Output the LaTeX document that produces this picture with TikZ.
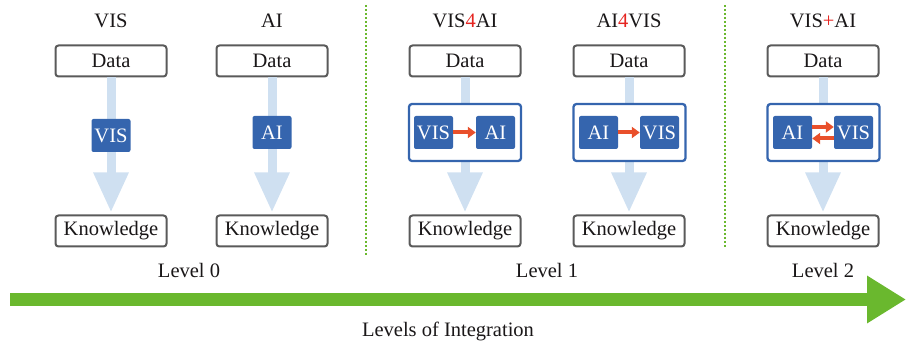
\documentclass[tikz,border=0pt]{standalone}
\usepackage{fontspec}
\setmainfont{Liberation Serif}
\usetikzlibrary{arrows.meta}
\definecolor{boxblue}{HTML}{3565AE}
\definecolor{lightblue}{HTML}{CFE0F1}
\definecolor{boxgray}{HTML}{5A5A5A}
\definecolor{textdark}{HTML}{1A1718}
\definecolor{redarr}{HTML}{E9502B}
\definecolor{redfour}{HTML}{E52521}
\definecolor{levgreen}{HTML}{6AB82E}
\begin{document}
\begin{tikzpicture}[x=1pt,y=-1pt,
  txt/.style={font=\fontsize{20.5}{24}\selectfont, text=textdark, inner sep=0pt},
  gbox/.style={txt, draw=boxgray, line width=2pt, rounded corners=3pt, fill=white, minimum width=111pt, minimum height=31pt},
  bbox/.style={fill=boxblue, rounded corners=2pt, minimum width=39pt, minimum height=33pt, inner sep=0pt, text=white, font=\fontsize{20.5}{24}\selectfont},
  obox/.style={draw=boxblue, line width=2.3pt, fill=white, rounded corners=3pt, minimum width=112pt, minimum height=57pt, inner sep=0pt},
  bigarrow/.style={draw=lightblue, line width=9pt, -{Triangle[width=33pt,length=40pt]}, shorten >=2pt},
  redarrow/.style={draw=redarr, line width=4pt, -{Triangle[width=11pt,length=8pt]}},
  sep/.style={draw=levgreen, line width=2pt, dotted}
]
\useasboundingbox (0,0) rectangle (906,344);

% titles
\node[txt] (t1) at (111,21) {VIS};
\node[txt] (t2) at (272,21) {AI};
\node[txt] (t3) at (465,21) {VIS\textcolor{redfour}{4}AI};
\node[txt] (t4) at (629,21) {AI\textcolor{redfour}{4}VIS};
\node[txt] (t5) at (823,21) {VIS\textcolor{redfour}{+}AI};

% data and knowledge
\node[gbox] (d1) at (111,61) {Data};
\node[gbox] (d2) at (272,61) {Data};
\node[gbox] (d3) at (465,61) {Data};
\node[gbox] (d4) at (629,61) {Data};
\node[gbox] (d5) at (823,61) {Data};
\node[gbox] (k1) at (111,231) {Knowledge};
\node[gbox] (k2) at (272,231) {Knowledge};
\node[gbox] (k3) at (465,231) {Knowledge};
\node[gbox] (k4) at (629,231) {Knowledge};
\node[gbox] (k5) at (823,231) {Knowledge};

% big arrows
\draw[bigarrow] (d1.south) -- (k1.north);
\draw[bigarrow] (d2.south) -- (k2.north);
\draw[bigarrow] (d3.south) -- (k3.north);
\draw[bigarrow] (d4.south) -- (k4.north);
\draw[bigarrow] (d5.south) -- (k5.north);

% level 0
\node[bbox] (v1) at (111,135.5) {VIS};
\node[bbox] (a2) at (272,132.5) {AI};

% level 1
\node[obox] (o3) at (465,132.5) {};
\node[bbox] (v3) at (433.5,132.5) {VIS};
\node[bbox] (a3) at (495.5,132.5) {AI};
\draw[redarrow] (v3.east) -- (a3.west);

\node[obox] (o4) at (629.5,132.5) {};
\node[bbox] (a4) at (598.5,132.5) {AI};
\node[bbox] (v4) at (659.5,132.5) {VIS};
\draw[redarrow] (a4.east) -- (v4.west);

% level 2
\node[obox] (o5) at (823.5,132.5) {};
\node[bbox] (a5) at (792.5,132.5) {AI};
\node[bbox] (v5) at (853.5,132.5) {VIS};
\draw[redarrow] ([yshift=5.5pt]a5.east) -- ([yshift=5.5pt]v5.west);
\draw[redarrow] ([yshift=-6pt]v5.west) -- ([yshift=-6pt]a5.east);

% separators
\coordinate (s1a) at (366,5);
\coordinate (s1b) at (366,255);
\coordinate (s2a) at (725,5);
\coordinate (s2b) at (725,248);
\draw[sep] (s1a) -- (s1b);
\draw[sep] (s2a) -- (s2b);

% level labels
\node[txt] (l0) at (189,270) {Level 0};
\node[txt] (l1) at (547,270) {Level 1};
\node[txt] (l2) at (823,270) {Level 2};

% green arrow
\coordinate (g0) at (10,299.5);
\coordinate (g1) at (906,299.5);
\draw[draw=levgreen, line width=13pt, -{Triangle[width=45pt,length=39pt]}] (g0) -- (g1);
\node[txt] (li) at (448,331) {Levels of Integration};
\end{tikzpicture}
\end{document}
